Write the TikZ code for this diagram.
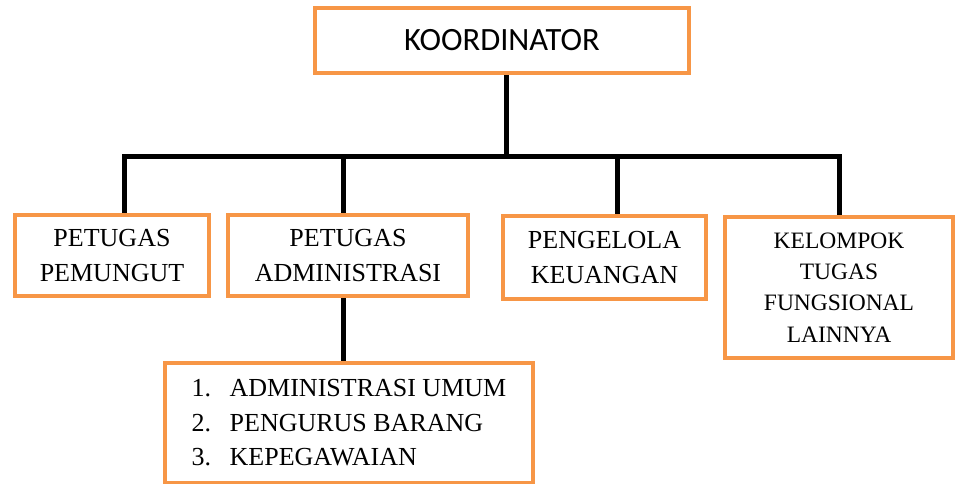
\documentclass[tikz,border=0pt]{standalone}
\usepackage{fontspec}
\setmainfont{Liberation Serif}
\newfontfamily\calibrifont{Carlito}
\usepackage{xcolor}
\usepackage{tikz}
\usetikzlibrary{positioning, backgrounds}
\definecolor{boxorange}{RGB}{247,150,70}

\begin{document}
\begin{tikzpicture}[
    x=1pt, y=-1pt,
    unit/.style={rectangle, draw=boxorange, line width=4pt, fill=white, align=center, inner sep=0pt,
                 font=\fontsize{26}{34.5}\selectfont},
    link/.style={line width=5pt, black}
]
\useasboundingbox (0,0) rectangle (956,484);

\node[unit, minimum width=374pt, minimum height=65pt, font=\calibrifont\fontsize{32.5}{36}\selectfont] (koor) at (502,40.5) {KOORDINATOR};

\node[unit, minimum width=194pt, minimum height=81pt] (pem) at (112,255.5) {PETUGAS\\PEMUNGUT};
\node[unit, minimum width=240pt, minimum height=81pt] (adm) at (348,255.5) {PETUGAS\\ADMINISTRASI};
\node[unit, minimum width=203pt, minimum height=83pt] (keu) at (604.5,257.5) {PENGELOLA\\KEUANGAN};
\node[unit, minimum width=228pt, minimum height=141pt, font=\fontsize{23.5}{31.3}\selectfont] (kel) at (839,287.5) {KELOMPOK\\TUGAS\\FUNGSIONAL\\LAINNYA};

\node[unit, minimum width=368pt, minimum height=120pt, align=left, below=63pt of adm.south, anchor=north, xshift=1pt] (list)
  {\makebox[38pt][l]{1.}ADMINISTRASI UMUM\\\makebox[38pt][l]{2.}PENGURUS BARANG\\\makebox[38pt][l]{3.}KEPEGAWAIAN};

% taps on the bus line
\coordinate (t0) at (506,157);
\coordinate (t1) at (124,157);
\coordinate (t2) at (343,157);
\coordinate (t3) at (617,157);
\coordinate (t4) at (839,157);

\begin{scope}[on background layer]
\draw[link] (koor.south -| t0) -- (t0);
\draw[link, line cap=rect] (t1) -- (t4);
\draw[link] (t1) -- (t1 |- pem.north);
\draw[link] (t2) -- (t2 |- adm.north);
\draw[link] (t3) -- (t3 |- keu.north);
\draw[link] (t4) -- (t4 |- kel.north);
\draw[link] (adm.south -| t2) -- (list.north -| t2);
\end{scope}
\end{tikzpicture}
\end{document}
